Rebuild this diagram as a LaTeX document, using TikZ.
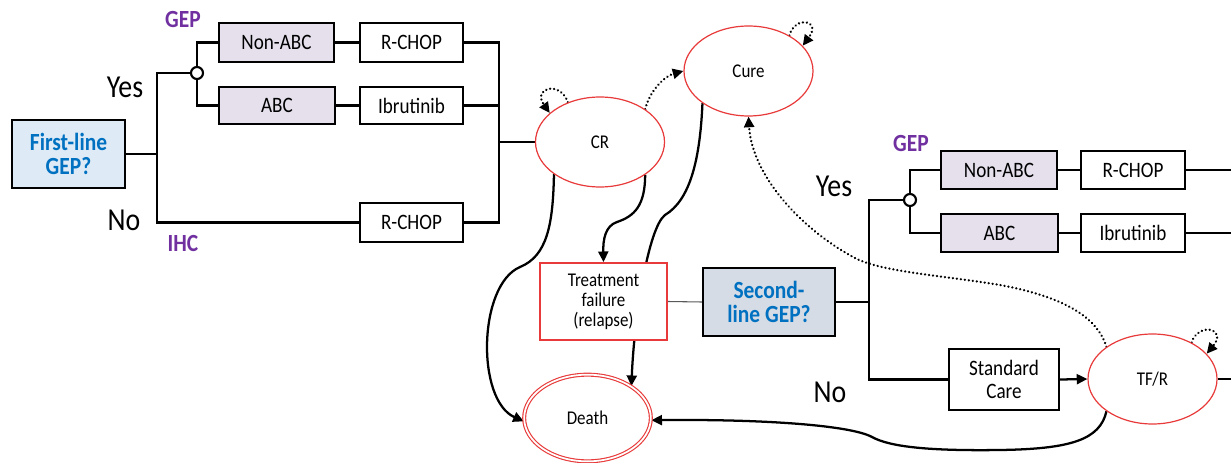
\documentclass[tikz,border=0pt]{standalone}
\usepackage{fontspec}
\setmainfont{Carlito}[FakeStretch=0.87]
\usetikzlibrary{arrows.meta,shapes.geometric,calc}
\definecolor{gepblue}{RGB}{0,112,192}
\definecolor{geppurple}{RGB}{112,48,160}
\definecolor{boxlav}{RGB}{229,224,236}
\definecolor{boxblue}{RGB}{222,235,247}
\definecolor{boxgray}{RGB}{214,220,229}
\definecolor{stred}{RGB}{232,58,58}
\pgfdeclarelayer{bg}
\pgfsetlayers{bg,main}
\tikzset{
  boxbase/.style={draw=black, line width=1.8pt, inner sep=0pt, align=center, fill=white,
    font=\fontsize{16.5}{17}\selectfont},
  lavbox/.style={boxbase, fill=boxlav},
  decbox/.style={boxbase, font=\fontsize{18.5}{18.5}\bfseries\selectfont, text=gepblue},
  state/.style={ellipse, draw=stred, line width=0.9pt, fill=white, inner sep=0pt,
    minimum width=96.75pt, minimum height=67.5pt, font=\fontsize{14.6}{15}\selectfont},
  absorb/.style={state, double=white, double distance=1.3pt, line width=0.85pt,
    minimum width=95pt, minimum height=65pt},
  failbox/.style={draw=stred, line width=1.3pt, fill=white, inner sep=0pt, align=center,
    font=\fontsize{14.6}{15}\selectfont},
  junc/.style={circle, draw=black, line width=1.6pt, fill=white, inner sep=0pt, minimum size=9pt},
  conn/.style={line width=1.8pt, black},
  arr/.style={line width=1.7pt, black, -{Triangle[length=8pt,width=7.5pt]}},
  dotarr/.style={line width=1.9pt, black, line cap=round, dash pattern=on 0.01pt off 3pt,
    -{Triangle[length=8pt,width=7.5pt,line cap=butt]}},
  yesno/.style={font=\fontsize{24}{24}\selectfont, inner sep=0pt},
  method/.style={font=\fontsize{18.5}{18.5}\bfseries\selectfont, text=geppurple, inner sep=0pt},
}
\begin{document}
\begin{tikzpicture}[x=0.75pt, y=-0.75pt]
\useasboundingbox (0,0) rectangle (1231,463);

% ---------- first-line part ----------
\node[decbox, fill=boxblue, minimum width=84.75pt, minimum height=51pt] (first) at (68.5,154) {First-line\\GEP?};
\node[junc] (c1) at (197,73) {};
\node[lavbox, minimum width=86.25pt, minimum height=29.25pt] (nonabc1) at (276.5,42.5) {Non-ABC};
\node[lavbox, minimum width=87pt, minimum height=28pt] (abc1) at (277,105.5) {ABC};
\node[boxbase, minimum width=77.25pt, minimum height=29.25pt] (rchop1) at (411.5,42.5) {R-CHOP};
\node[boxbase, minimum width=77.25pt, minimum height=28pt] (ibr1) at (411.5,105.5) {Ibrutinib};
\node[boxbase, minimum width=77.25pt, minimum height=29.25pt] (rchop1b) at (411.5,222.5) {R-CHOP};

\node[yesno] (yes1) at (125,87) {Yes};
\node[yesno] (no1) at (124,220) {No};
\node[method] (gep1) at (183,20) {GEP};
\node[method] (ihc1) at (183,243) {IHC};

\coordinate (j1top) at (157,73);
\coordinate (j1bot) at (157,222.5);
\coordinate (j2) at (499,142);

% ---------- states ----------
\node[state] (CR) at (600,142) {CR};
\node[state] (Cure) at (748.5,71) {Cure};
\node[failbox, minimum width=95.25pt, minimum height=57.75pt] (TF) at (603.5,301.5) {Treatment\\failure\\(relapse)};
\node[absorb] (Death) at (587.5,418) {Death};
\node[state] (TFR) at (1152.5,379) {TF/R};

% ---------- second-line part ----------
\node[decbox, fill=boxgray, minimum width=99pt, minimum height=51pt] (second) at (769,302) {Second-\\line GEP?};
\node[junc] (c2) at (910,200) {};
\node[lavbox, minimum width=87pt, minimum height=28.5pt] (nonabc2) at (999,170) {Non-ABC};
\node[lavbox, minimum width=87.75pt, minimum height=28.5pt] (abc2) at (999.5,233) {ABC};
\node[boxbase, minimum width=78pt, minimum height=28.5pt] (rchop2) at (1133,170) {R-CHOP};
\node[boxbase, minimum width=78pt, minimum height=28.5pt] (ibr2) at (1133,233) {Ibrutinib};
\node[boxbase, minimum width=82.5pt, minimum height=45.75pt] (std) at (1004,379.5) {Standard\\Care};

\node[yesno] (yes2) at (834,186) {Yes};
\node[yesno] (no2) at (830,392) {No};
\node[method] (gep2) at (911,143) {GEP};

\coordinate (j3top) at (869,200);
\coordinate (e1) at (1231,170);
\coordinate (e2) at (1231,233);
\coordinate (e3) at (1231,379);

\begin{pgfonlayer}{bg}
% tree 1
\draw[conn] (first.east) -- (first.east -| j1top);
\draw[conn] (c1.west) -- (j1top) -- (j1bot) -- (rchop1b.west);
\draw[conn] (c1.north) |- (nonabc1.west);
\draw[conn] (c1.south) |- (abc1.west);
\draw[conn] (nonabc1.east) -- (rchop1.west);
\draw[conn] (abc1.east) -- (ibr1.west);
\draw[conn] (rchop1.east) -- (rchop1.east -| j2) -- (rchop1b.east -| j2) -- (rchop1b.east);
\draw[conn] (ibr1.east) -- (ibr1.east -| j2);
\draw[conn] (j2) -- (CR.west);

% tree 2
\draw[line width=0.8pt, gray!70!black] (TF.east) -- (second.west);
\draw[conn] (second.east) -- (second.east -| j3top);
\draw[conn] (c2.west) -- (j3top) -- (j3top |- std.west) -- (std.west);
\draw[conn] (c2.north) |- (nonabc2.west);
\draw[conn] (c2.south) |- (abc2.west);
\draw[conn] (nonabc2.east) -- (rchop2.west);
\draw[conn] (abc2.east) -- (ibr2.west);
\draw[conn] (rchop2.east) -- (e1);
\draw[conn] (ibr2.east) -- (e2);
\draw[arr] (std.east) -- (TFR.west);
\draw[conn] (TFR.east) -- (e3);

% transitions
\draw[arr] (CR.215) .. controls (553,225) and (547,256) .. (520,267)
  .. controls (478,285) and (476,400) .. (Death.183);
\draw[arr] (CR.324) .. controls (645,205) and (635,216) .. (617,222)
  .. controls (605,226) and (603,240) .. (TF.north);
\draw[arr] (Cure.215) .. controls (700,160) and (690,200) .. (665,215)
  .. controls (648,228) and (634,320) .. (Death.36);
\draw[arr] (TFR.215) .. controls (1100,440) and (1070,449) .. (1000,450)
  .. controls (930,451) and (890,447) .. (872,437)
  .. controls (850,425) and (760,419) .. (Death.-2);
\draw[dotarr] (CR.36) .. controls (650,90) and (665,76) .. (Cure.180);
\draw[dotarr] (TFR.145) .. controls (1098,320) and (1070,298) .. (1000,285)
  .. controls (940,275) and (880,272) .. (853,257)
  .. controls (800,228) and (752,175) .. (Cure.south);
% self loops
\draw[dotarr] (CR.129) .. controls (560,80) and (532,88) .. (CR.150);
\draw[dotarr] (Cure.41) .. controls (795,15) and (822,20) .. (Cure.25);
\draw[dotarr] (TFR.43) .. controls (1198,322) and (1228,328) .. (TFR.25);
\end{pgfonlayer}
\end{tikzpicture}
\end{document}
